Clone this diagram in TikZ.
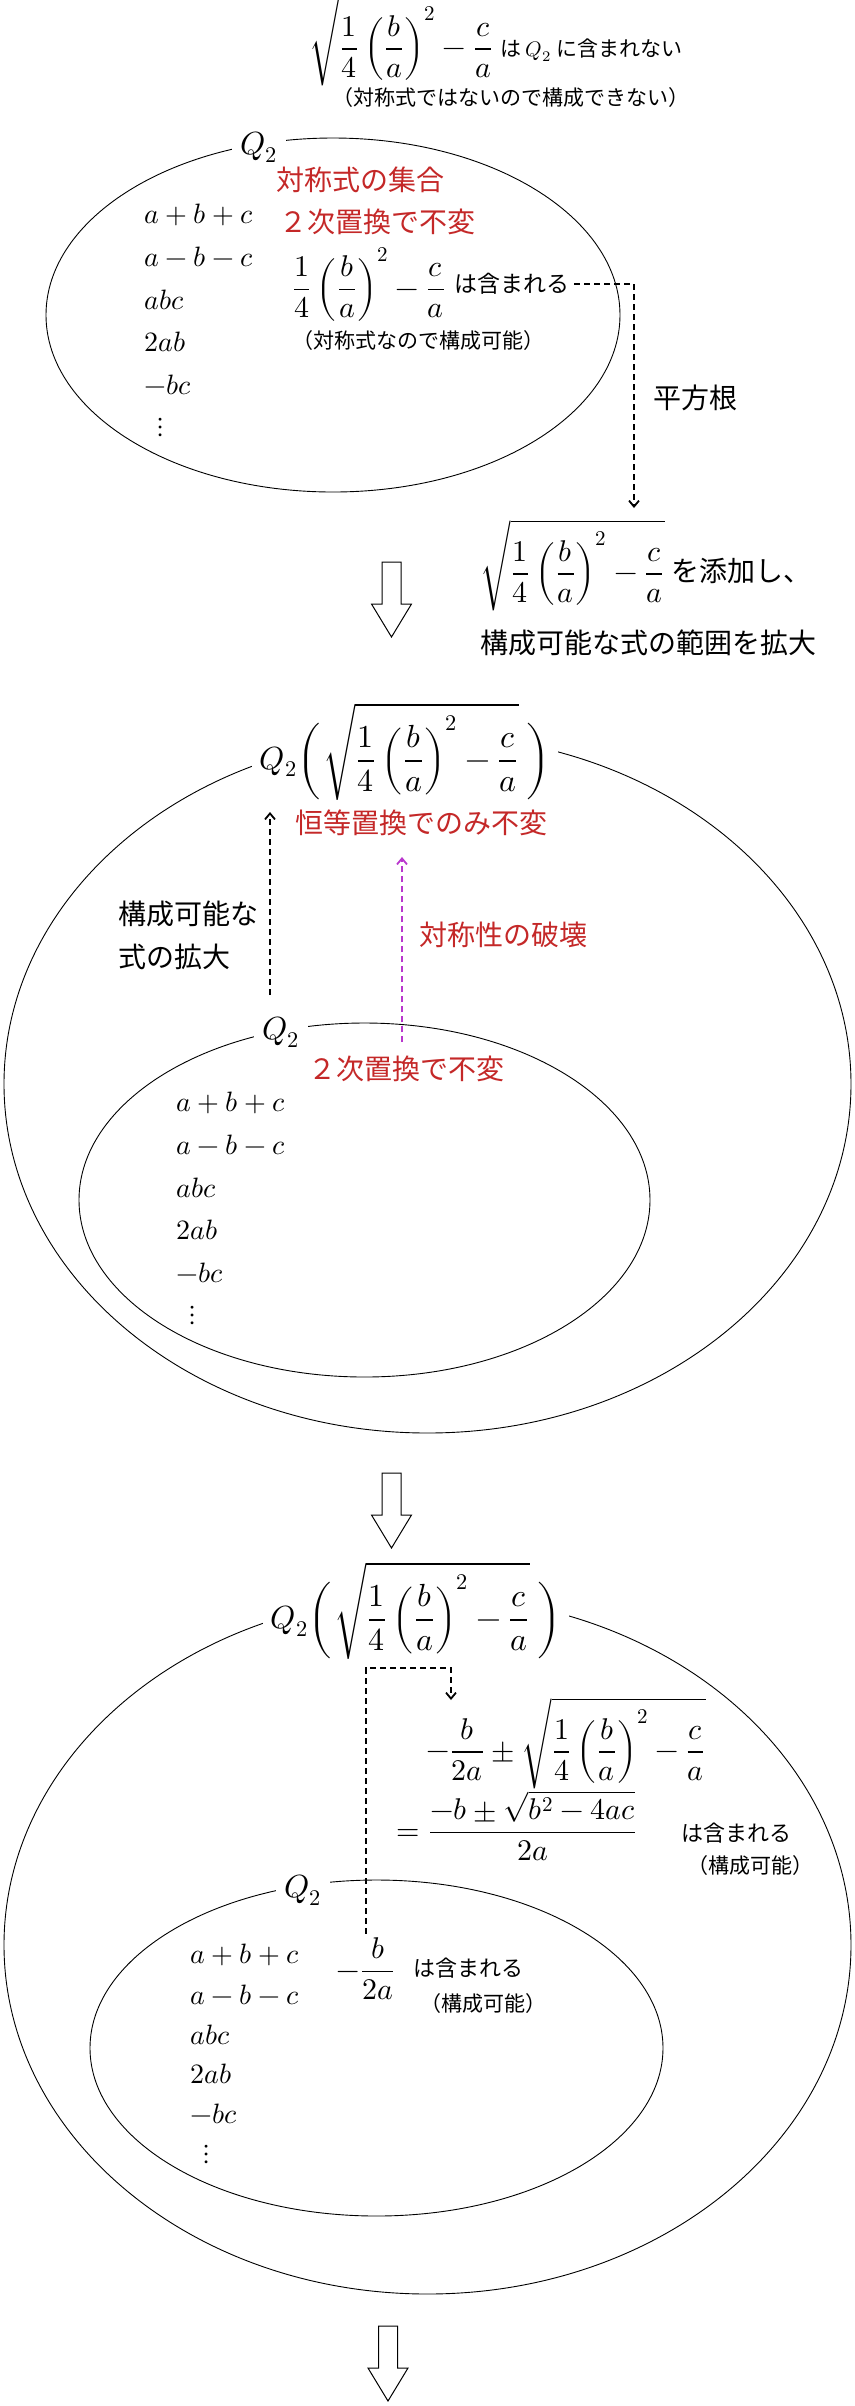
\documentclass[tikz,border=0pt]{standalone}
\usepackage{fontspec}
\usepackage{unicode-math}
\setmainfont{Noto Sans CJK JP}
\usetikzlibrary{arrows.meta}
\definecolor{symred}{RGB}{196,40,40}
\definecolor{brkmag}{RGB}{185,55,205}
\newcommand{\rtexpr}{\sqrt{\frac{1}{4}\left(\frac{b}{a}\right)^{2}-\frac{c}{a}}}
\newcommand{\qdexpr}{\frac{1}{4}\left(\frac{b}{a}\right)^{2}-\frac{c}{a}}
\newcommand{\parstrut}{\vrule height 24pt depth 17pt width 0pt}
\newcommand{\jpnote}{\fontsize{10.5}{13}\selectfont}

\begin{document}
\begin{tikzpicture}[x=0.5pt,y=-0.5pt,inner sep=2pt,>={Straight Barb[length=3pt,width=5pt]},
mainjp/.style={font=\fontsize{14}{21.5}\selectfont},
notejp/.style={font=\jpnote},
redjp/.style={text=symred,font=\fontsize{14}{17}\selectfont},
listitem/.style={anchor=west,font=\fontsize{14}{17}\selectfont},
fracbox/.style={font=\fontsize{15}{18}\selectfont},
setlabel/.style={fill=white,inner sep=4pt,font=\fontsize{16}{19}\selectfont},
biglabel/.style={fill=white,inner sep=4pt,font=\fontsize{16}{19}\selectfont},
setline/.style={line width=0.45pt},
dashlink/.style={->,line width=0.9pt,dash pattern=on 3pt off 2pt}]

\useasboundingbox (0,0) rectangle (855,2406);

% ---- Q2 only
\draw (496,40) node[fracbox] (nosym) {$\displaystyle\rtexpr$\ {\jpnote は $Q_2$ に含まれない}};
\draw (511,98) node[notejp] (nosymnote) {（対称式ではないので構成できない）};

\draw[setline] (333,315) ellipse [x radius=143.5pt,y radius=88.5pt];
\draw (259,147) node[setlabel] (q2a) {$Q_2$};
\draw (360,180) node[redjp] (symset) {対称式の集合};
\draw (377,222) node[redjp] (perm2a) {２次置換で不変};
\draw (369,284) node[fracbox] (symfrac) {$\displaystyle\qdexpr$};
\draw (symfrac.east) node[anchor=west,font=\fontsize{11.5}{14}\selectfont] (incl1) {は含まれる};
\draw (418,341) node[notejp] (symnote) {（対称式なので構成可能）};

\coordinate (sqtip) at (634,508);
\draw[dashlink] (incl1.east) -| (sqtip);
\draw (695,398) node[mainjp] (sqrtlbl) {平方根};
\draw (646,565) node[fracbox] (adjoin) {$\displaystyle\rtexpr$\ {\fontsize{14}{17}\selectfont を添加し、}};
\draw (648,643) node[mainjp] (widen) {構成可能な式の範囲を拡大};

% ---- Q2 with the root
\draw[setline] (427.5,1084) ellipse [x radius=211.75pt,y radius=174.5pt];
\draw (405,753) node[biglabel] (q2b) {$\displaystyle Q_2{\left(\parstrut\right.}\rtexpr\,{\left.\parstrut\right)}$};
\draw (421,823) node[redjp] (idinv) {恒等置換でのみ不変};
\draw (188,935) node[mainjp,align=left] (growtxt) {構成可能な\\式の拡大};
\draw (503,935) node[redjp] (symbrk) {対称性の破壊};

\draw[setline] (364.5,1200) ellipse [x radius=142.75pt,y radius=88.5pt];
\draw (281,1032) node[setlabel] (q2c) {$Q_2$};
\draw (406,1069) node[redjp] (perm2b) {２次置換で不変};

\coordinate (grow0) at (270,995);
\coordinate (grow1) at (270,812);
\coordinate (brk0) at (402,1042);
\coordinate (brk1) at (402,857);
\draw[dashlink] (grow0) -- (grow1);
\draw[dashlink,brkmag] (brk0) -- (brk1);

% ---- roots
\draw[setline] (427.5,1945) ellipse [x radius=211.75pt,y radius=174.5pt];
\draw (416,1612) node[biglabel] (q2d) {$\displaystyle Q_2{\left(\parstrut\right.}\rtexpr\,{\left.\parstrut\right)}$};
\draw (566,1743) node[fracbox] (rootsum) {$\displaystyle -\frac{b}{2a}\pm\rtexpr$};
\draw (392,1826) node[fracbox,anchor=west] (rooteq) {$\displaystyle =\frac{-b\pm\sqrt{b^{2}-4ac}}{2a}$};
\draw (736,1833) node[font=\fontsize{11}{13}\selectfont] (incl3) {は含まれる};
\draw (750,1865) node[notejp] (cons3) {（構成可能）};

\draw[setline] (376.5,2048) ellipse [x radius=143.25pt,y radius=84pt];
\draw (303,1890) node[setlabel] (q2e) {$Q_2$};
\draw (366,1969) node[fracbox] (halfb) {$\displaystyle -\frac{b}{2a}$};
\draw (468,1968) node[font=\fontsize{11}{13}\selectfont] (incl2) {は含まれる};
\draw (483,2003) node[notejp] (cons2) {（構成可能）};

\coordinate (hbc) at (400,1668);
\coordinate (hb1) at (451,1700);
\draw[dashlink] (halfb.north) |- (hbc) -| (hb1);

% lists of elements
\foreach \lx/\ly/\ls in {140/215/42.4,172/1103/42.4,186/1955/39.8}{
  \foreach \t [count=\i from 0] in {a+b+c,a-b-c,abc,2ab,-bc}
    \draw (\lx,\ly+\ls*\i) node[listitem] {$\t$};
  \draw (\lx+21,\ly+5*\ls) node[listitem,anchor=center] {$\vdots$};
}

% hollow arrows
\foreach \ax/\ay in {391.5/562,391.5/1473,388/2326}
  \draw[line width=0.5pt] (\ax-9.5,\ay) -- (\ax+9.5,\ay) -- (\ax+9.5,\ay+42) -- (\ax+20,\ay+42)
    -- (\ax,\ay+75) -- (\ax-20,\ay+42) -- (\ax-9.5,\ay+42) -- cycle;
\end{tikzpicture}
\end{document}
